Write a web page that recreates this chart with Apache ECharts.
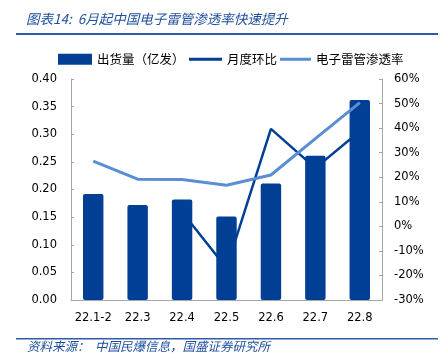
<!DOCTYPE html>
<html><head><meta charset="utf-8">
<script src="https://cdn.jsdelivr.net/npm/echarts@6/dist/echarts.min.js"></script>
<style>html,body{margin:0;padding:0;background:#fff}#c{width:446px;height:358px}</style>
</head><body><div id="c"></div>
<script>
var categories = ['22.1-2','22.3','22.4','22.5','22.6','22.7','22.8'];
var shipments = [0.192, 0.172, 0.182, 0.151, 0.211, 0.261, 0.362];
var momGrowth = [null, null, 5.8, -17.0, 39.7, 23.7, 38.7];
var penetration = [26.6, 19.2, 19.1, 16.7, 20.9, 35.7, 50.4];
var seriesNames = ['出货量（亿发）','月度环比','电子雷管渗透率'];
var titleText = '图表14:  6月起中国电子雷管渗透率快速提升';
var sourceText = '资料来源：  中国民爆信息，国盛证券研究所';

var dark = '#003F93', light = '#5A8ED3', axisGray = '#A6A6A6', blueText = '#1F4E9C';
var chart = echarts.init(document.getElementById('c'));
var labelFont = {fontFamily:'DejaVu Sans', fontSize:11.5, color:'#000'};
var legendText = {fontFamily:'Noto Sans CJK SC', fontSize:12.5, color:'#000'};
chart.setOption({
  animation:false,
  grid:{left:71, right:64, top:79, bottom:58},
  legend:[
    {top:48, left:53, itemWidth:34, itemHeight:11, itemGap:4, textStyle:legendText,
     data:[{name:seriesNames[0], icon:'rect'}]},
    {top:48, left:184, itemWidth:33, itemHeight:3, textStyle:legendText,
     data:[{name:seriesNames[1], icon:'rect'}]},
    {top:48, left:275, itemWidth:31, itemHeight:3, textStyle:legendText,
     data:[{name:seriesNames[2], icon:'rect'}]}
  ],
  xAxis:{type:'category', data:categories,
    axisLine:{lineStyle:{color:axisGray}},
    axisTick:{inside:true, length:3, lineStyle:{color:axisGray}},
    axisLabel:Object.assign({margin:12, interval:0}, labelFont)},
  yAxis:[
    {type:'value', min:0, max:0.4, interval:0.05,
     axisLine:{show:true, lineStyle:{color:axisGray}},
     axisTick:{show:true, inside:true, length:3, lineStyle:{color:axisGray}},
     splitLine:{show:false},
     axisLabel:Object.assign({margin:14, formatter:function(v){return v.toFixed(2);}}, labelFont)},
    {type:'value', min:-30, max:60, interval:10,
     axisLine:{show:true, lineStyle:{color:axisGray}},
     axisTick:{show:true, inside:true, length:3, lineStyle:{color:axisGray}},
     splitLine:{show:false},
     axisLabel:Object.assign({margin:12, formatter:function(v){return v+'%';}}, labelFont)}
  ],
  series:[
    {name:seriesNames[1], type:'line', yAxisIndex:1, data:momGrowth, z:1,
     symbol:'none', lineStyle:{color:dark, width:2.5}, itemStyle:{color:dark}},
    {name:seriesNames[0], type:'bar', yAxisIndex:0, data:shipments, z:2,
     barWidth:'46%', itemStyle:{color:dark, borderRadius:2}},
    {name:seriesNames[2], type:'line', yAxisIndex:1, data:penetration, z:3,
     symbol:'none', lineStyle:{color:light, width:3}, itemStyle:{color:light}}
  ],
  graphic:[
    {type:'text', left:26, top:12, style:{text:titleText, fill:blueText,
      font:'italic 13.5px "Noto Sans CJK SC"'}},
    {type:'rect', shape:{x:16, y:33, width:422, height:2}, style:{fill:'#2E5BA8'}},
    {type:'rect', shape:{x:16, y:338, width:422, height:1.5}, style:{fill:'#2E5BA8'}},
    {type:'text', left:27, top:340, style:{text:sourceText, fill:blueText,
      font:'italic 12.5px "Noto Sans CJK SC"'}}
  ]
});
</script></body></html>
